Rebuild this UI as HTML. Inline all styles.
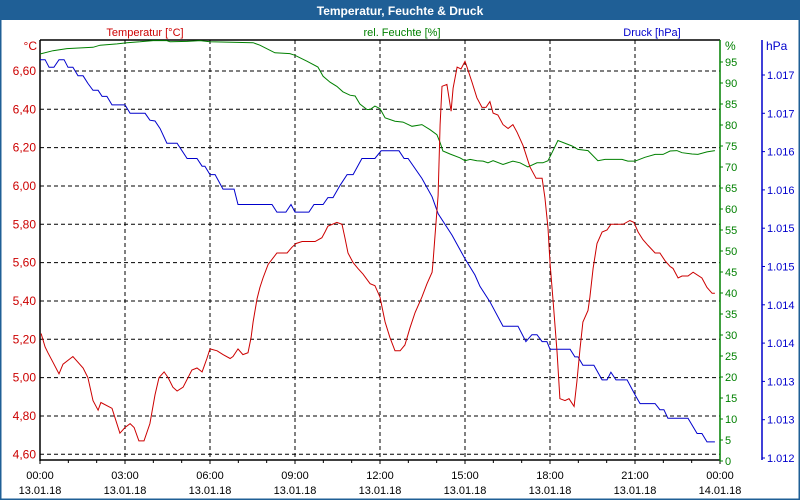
<!DOCTYPE html>
<html><head><meta charset="utf-8">
<style>
html,body{margin:0;padding:0;background:#fff;}
#wrap{position:relative;width:800px;height:500px;overflow:hidden;font-family:"Liberation Sans","DejaVu Sans",sans-serif;}
svg text{font-family:"Liberation Sans","DejaVu Sans",sans-serif;}
</style></head>
<body>
<div id="wrap">
<svg id="chart" width="800" height="500" viewBox="0 0 800 500">
  <rect x="0" y="0" width="800" height="500" fill="#fff" stroke="#1f5f96" stroke-width="3"/>
  <rect x="0" y="0" width="800" height="20" fill="#1f5f96"/>
  <text x="400" y="15" text-anchor="middle" fill="#fff" font-size="12" font-weight="bold">Temperatur, Feuchte &amp; Druck</text>
  <text x="145" y="36" text-anchor="middle" fill="#cc0000" font-size="11">Temperatur [°C]</text>
  <text x="402" y="36" text-anchor="middle" fill="#008000" font-size="11">rel. Feuchte [%]</text>
  <text x="652" y="36" text-anchor="middle" fill="#0000cc" font-size="11">Druck [hPa]</text>
  <text x="37" y="50" text-anchor="end" fill="#cc0000" font-size="12">°C</text>
  <text x="725" y="50" fill="#008000" font-size="12">%</text>
  <text x="766" y="50" fill="#0000cc" font-size="12">hPa</text>
  <g id="grid"></g>
  <g id="axes"></g>
  <g id="series"></g>
</svg>
</div>
<script>
// ---- data ----
const xTickLabels = ["00:00","03:00","06:00","09:00","12:00","15:00","18:00","21:00","00:00"];
const xDateLabels = ["13.01.18","13.01.18","13.01.18","13.01.18","13.01.18","13.01.18","13.01.18","13.01.18","14.01.18"];
const tempTicks = [4.6,4.8,5.0,5.2,5.4,5.6,5.8,6.0,6.2,6.4,6.6];
const humTicks = [0,5,10,15,20,25,30,35,40,45,50,55,60,65,70,75,80,85,90,95];
const presTicks = [1017.25,1016.75,1016.25,1015.75,1015.25,1014.75,1014.25,1013.75,1013.25,1012.75,1012.25];

const tempTimes = [0.04,0.18,0.28,0.46,0.67,0.81,1.16,1.52,1.69,1.87,2.05,2.15,2.54,2.82,3.0,3.18,3.32,3.49,3.67,3.88,4.06,4.2,4.38,4.52,4.69,4.84,5.05,5.36,5.54,5.72,5.89,6.0,6.25,6.46,6.71,6.81,6.99,7.16,7.34,7.45,7.52,7.66,7.76,7.87,8.05,8.36,8.72,8.89,9.04,9.25,9.35,9.71,9.95,10.06,10.16,10.48,10.66,10.76,10.87,11.05,11.22,11.4,11.65,11.82,12.0,12.18,12.35,12.53,12.71,12.88,13.06,13.24,13.48,13.66,13.84,13.87,13.94,14.05,14.12,14.19,14.36,14.51,14.58,14.72,14.86,15.0,15.07,15.25,15.42,15.6,15.74,15.88,15.99,16.16,16.34,16.52,16.69,16.84,17.05,17.29,17.51,17.72,17.82,17.93,18.0,18.11,18.25,18.35,18.53,18.67,18.85,18.95,19.06,19.16,19.34,19.41,19.52,19.66,19.84,20.01,20.15,20.58,20.82,20.96,21.11,21.28,21.46,21.71,21.88,22.06,22.24,22.34,22.52,22.66,22.87,23.05,23.36,23.54,23.72,23.82];
const tempValues = [5.23,5.16,5.13,5.08,5.02,5.07,5.11,5.05,5.00,4.88,4.83,4.87,4.84,4.71,4.74,4.76,4.74,4.67,4.67,4.76,4.91,5.00,5.03,5.00,4.95,4.93,4.95,5.04,5.05,5.03,5.10,5.15,5.14,5.12,5.10,5.11,5.15,5.12,5.13,5.21,5.29,5.41,5.47,5.52,5.59,5.65,5.65,5.68,5.70,5.71,5.71,5.71,5.73,5.76,5.79,5.81,5.80,5.73,5.65,5.60,5.57,5.54,5.49,5.48,5.42,5.29,5.21,5.14,5.14,5.17,5.26,5.34,5.42,5.49,5.55,5.60,5.74,5.95,6.32,6.52,6.53,6.39,6.51,6.62,6.61,6.65,6.62,6.54,6.46,6.41,6.41,6.44,6.38,6.37,6.32,6.30,6.32,6.28,6.21,6.10,6.04,6.04,5.94,5.78,5.60,5.40,5.13,4.89,4.88,4.89,4.85,4.98,5.15,5.29,5.35,5.42,5.57,5.70,5.76,5.77,5.80,5.80,5.82,5.81,5.76,5.72,5.69,5.65,5.65,5.61,5.58,5.57,5.52,5.53,5.53,5.55,5.52,5.47,5.44,5.44];

const humTimes = [0,0.46,0.95,1.87,2.12,2.72,3.07,3.53,3.99,4.48,4.59,5.19,5.65,6.0,7.52,7.76,8.29,8.82,9.0,9.42,9.81,9.99,10.24,10.48,10.69,10.94,11.12,11.29,11.54,11.65,11.82,12.0,12.18,12.53,12.81,13.13,13.48,13.76,14.01,14.12,14.22,14.47,14.82,15.0,15.18,15.42,15.64,15.81,15.99,16.34,16.69,16.94,17.22,17.54,17.75,17.93,18.07,18.28,18.78,18.99,19.34,19.69,19.94,20.54,20.75,21.0,21.35,21.71,21.99,22.24,22.48,22.66,23.01,23.22,23.54,23.82];
const humValues = [96.9,97.7,98.2,98.5,99.0,99.3,99.6,99.8,100.1,100.1,99.8,99.9,100.1,99.8,99.6,99.0,97.2,97.0,96.6,95.2,93.8,91.6,90.2,89.2,87.9,87.1,86.9,85.0,83.7,83.7,84.5,83.9,81.7,80.9,80.7,79.7,80.1,78.9,77.7,75.8,73.8,73.1,72.2,71.5,71.8,71.5,71.4,71.0,71.5,70.6,71.4,71.0,70.0,71.0,71.0,71.5,73.4,76.3,75.0,74.2,73.9,71.5,71.8,71.8,71.4,71.4,72.3,73.0,73.0,73.8,73.9,73.4,73.1,73.0,73.6,73.9];

const presTimes = [0,0.18,0.32,0.49,0.67,0.85,0.99,1.16,1.34,1.52,1.69,1.87,2.05,2.19,2.36,2.54,3.0,3.18,3.71,3.88,4.06,4.24,4.48,4.84,5.19,5.54,5.72,5.82,6.0,6.18,6.46,6.85,6.99,8.19,8.36,8.68,8.86,9.0,9.49,9.67,9.99,10.16,10.34,10.59,10.84,11.05,11.36,11.82,12.04,12.67,12.85,12.99,13.48,13.84,14.05,14.54,15.0,15.35,15.53,15.88,16.34,16.87,17.15,17.36,17.54,17.72,17.89,18.0,18.71,18.88,18.99,19.16,19.55,19.84,20.01,20.15,20.33,20.72,21.04,21.18,21.71,21.88,22.02,22.16,22.87,23.19,23.36,23.54,23.82];
const presValues = [1017.45,1017.45,1017.35,1017.35,1017.45,1017.45,1017.35,1017.35,1017.24,1017.24,1017.14,1017.05,1017.05,1016.97,1016.97,1016.86,1016.86,1016.75,1016.75,1016.66,1016.65,1016.55,1016.36,1016.36,1016.16,1016.16,1016.06,1016.06,1015.95,1015.95,1015.76,1015.76,1015.56,1015.56,1015.46,1015.46,1015.56,1015.46,1015.46,1015.56,1015.56,1015.65,1015.65,1015.81,1015.95,1015.95,1016.16,1016.16,1016.26,1016.26,1016.16,1016.16,1015.90,1015.66,1015.44,1015.16,1014.85,1014.64,1014.49,1014.29,1013.97,1013.97,1013.77,1013.86,1013.86,1013.77,1013.77,1013.67,1013.67,1013.57,1013.57,1013.46,1013.46,1013.27,1013.27,1013.37,1013.27,1013.27,1013.05,1012.96,1012.96,1012.88,1012.88,1012.77,1012.77,1012.57,1012.57,1012.46,1012.46];

// ---- scales ----
const X0 = 40, X1 = 720, YTOP = 40, YBOT = 460;
function xScale(h){ return X0 + h * (X1 - X0) / 24; }
function yTemp(v){ return 454.3 - (v - 4.6) * 191.67; }
function yHum(v){ return 461 - v * 4.2; }
function yPres(v){ return 75 + (1017.25 - v) * 76.6; }

const NS = "http://www.w3.org/2000/svg";
function mk(tag, attrs, parent){
  const e = document.createElementNS(NS, tag);
  for (const k in attrs) e.setAttribute(k, attrs[k]);
  parent.appendChild(e);
  return e;
}
const grid = document.getElementById('grid');
const axes = document.getElementById('axes');
const series = document.getElementById('series');

// horizontal grid
tempTicks.forEach(function(v){
  const y = yTemp(v);
  const l = mk('line',{x1:X0,x2:X1,y1:y,y2:y,stroke:'#000','stroke-width':1,'stroke-dasharray':'4,3'},grid);
  
  
  const t = mk('text',{x:36,y:y+4,'text-anchor':'end',fill:'#cc0000','font-size':12},axes);
  t.textContent = v.toFixed(2).replace('.',',');
  
  
});
// vertical grid + x labels
xTickLabels.forEach(function(lab,i){
  const x = xScale(i*3);
  if (i>0 && i<8){
    const l = mk('line',{x1:x,x2:x,y1:YTOP,y2:YBOT,stroke:'#000','stroke-width':1,'stroke-dasharray':'4,3'},grid);
    
    
  }
  const t = mk('text',{x:x,y:479,'text-anchor':'middle',fill:'#000','font-size':11},axes);
  t.textContent = lab;
  
  
  const d = mk('text',{x:x,y:494,'text-anchor':'middle',fill:'#000','font-size':11},axes);
  d.textContent = xDateLabels[i];
  
  
});
// hourly minor ticks
for (let h=0; h<=24; h++){
  const x = xScale(h);
  const l = mk('line',{x1:x,x2:x,y1:YBOT,y2:YBOT+(h%3===0?4:3),stroke:'#000','stroke-width':1},axes);
  
  
}
// frame axes
let a;
a = mk('line',{x1:X0,x2:X0,y1:YTOP,y2:YBOT+1,stroke:'#000','stroke-width':1.5},axes);
 
a = mk('line',{x1:X0,x2:X1,y1:YTOP,y2:YTOP,stroke:'#000','stroke-width':1.5},axes);
 
a = mk('line',{x1:X0,x2:X1,y1:YBOT,y2:YBOT,stroke:'#000','stroke-width':1.5},axes);
 
a = mk('line',{x1:X1,x2:X1,y1:YTOP,y2:YBOT+1,stroke:'#008000','stroke-width':1.5},axes);
 
a = mk('line',{x1:762,x2:762,y1:YTOP,y2:YBOT,stroke:'#0000cc','stroke-width':1.5},axes);
 

// humidity ticks
humTicks.forEach(function(v){
  const y = yHum(v);
  const l = mk('line',{x1:X1,x2:X1+3,y1:y,y2:y,stroke:'#008000'},axes);
  
  
  const t = mk('text',{x:725,y:y+4,fill:'#008000','font-size':11},axes);
  t.textContent = String(v);
  
  
});
// pressure ticks
presTicks.forEach(function(v){
  const y = yPres(v);
  const l = mk('line',{x1:762,x2:765,y1:y,y2:y,stroke:'#0000cc'},axes);
  
  
  const t = mk('text',{x:767,y:y+4,fill:'#0000cc','font-size':11},axes);
  t.textContent = (Math.round(v)/1000).toFixed(3).replace('.', '.');
  
  
});

function line(times, vals, yf, color){
  return times.map(function(t,i){ return xScale(t).toFixed(1)+','+yf(vals[i]).toFixed(1); }).join(' ');
}
let p;
p = mk('polyline',{points:line(humTimes,humValues,yHum),fill:'none',stroke:'#008000','stroke-width':1},series);
 
p = mk('polyline',{points:line(presTimes,presValues,yPres),fill:'none',stroke:'#0000cc','stroke-width':1},series);
 
p = mk('polyline',{points:line(tempTimes,tempValues,yTemp),fill:'none',stroke:'#cc0000','stroke-width':1},series);
 
</script>
</body></html>
